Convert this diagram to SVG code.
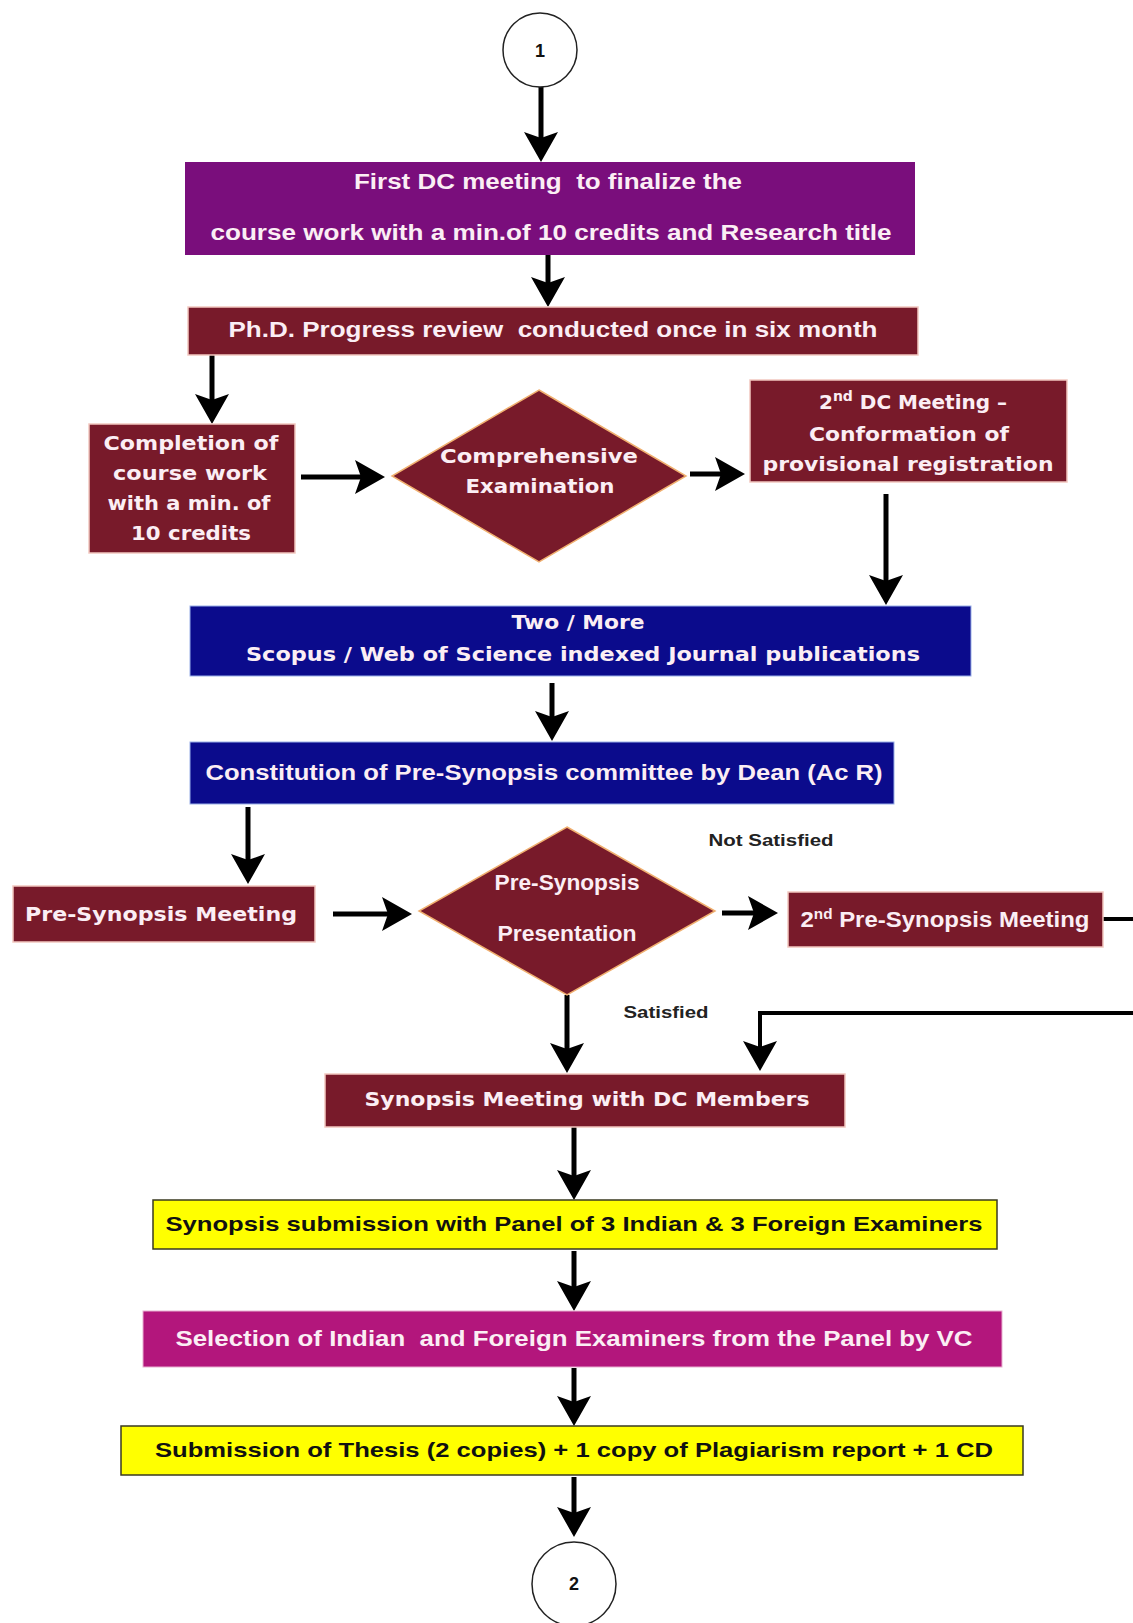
<svg xmlns="http://www.w3.org/2000/svg" width="1133" height="1623" viewBox="0 0 1133 1623">
<style>
.bg{fill:#ffffff}
.purple{fill:#7a0e7c}
.maroon{fill:#781a2a;stroke:#f2c8c0;stroke-width:1.5}
.dia{fill:#781a2a;stroke:#f0b070;stroke-width:1.5}
.blue{fill:#0b0b8c;stroke:#9ab0e8;stroke-width:1}
.magenta{fill:#b3167c;stroke:#e8b0d0;stroke-width:1}
.yellow{fill:#ffff00;stroke:#3a3a20;stroke-width:1.5}
.circ{fill:#ffffff;stroke:#222;stroke-width:1.5}
.t{font-family:"Liberation Sans",Arial,sans-serif;font-weight:bold;font-size:22px;fill:#fbeef4;text-anchor:middle;white-space:pre}
.v{font-family:"DejaVu Sans",Verdana,sans-serif;font-weight:bold;font-size:20px;fill:#fbeef4;text-anchor:middle}
.k{font-family:"Liberation Sans",Arial,sans-serif;font-weight:bold;font-size:21px;fill:#111;text-anchor:middle}
.lbl{font-family:"Liberation Sans",Arial,sans-serif;font-weight:bold;font-size:17px;fill:#222;text-anchor:middle}
.n{font-family:"Liberation Sans",Arial,sans-serif;font-weight:bold;font-size:18px;fill:#111;text-anchor:middle}
.c{fill:none;stroke:#000;stroke-width:5}
.c2{fill:none;stroke:#000;stroke-width:4}
</style>
<defs>
<marker id="ah" viewBox="0 0 30 34" refX="20" refY="17" markerWidth="30" markerHeight="34" markerUnits="userSpaceOnUse" orient="auto">
<path d="M0,0 L30,17 L0,34 L6,17 Z" fill="#000"/>
</marker>
</defs>
<rect class="bg" x="0" y="0" width="1133" height="1623"/>

<g id="connectors">
<line class="c" x1="541" y1="87" x2="541" y2="152" marker-end="url(#ah)"/>
<line class="c" x1="548" y1="255" x2="548" y2="297" marker-end="url(#ah)"/>
<line class="c" x1="212" y1="355" x2="212" y2="414" marker-end="url(#ah)"/>
<line class="c" x1="301" y1="477" x2="375" y2="477" marker-end="url(#ah)"/>
<line class="c" x1="690" y1="474" x2="735" y2="474" marker-end="url(#ah)"/>
<line class="c" x1="886" y1="494" x2="886" y2="595" marker-end="url(#ah)"/>
<line class="c" x1="552" y1="683" x2="552" y2="731" marker-end="url(#ah)"/>
<line class="c" x1="248" y1="807" x2="248" y2="874" marker-end="url(#ah)"/>
<line class="c" x1="333" y1="914" x2="402" y2="914" marker-end="url(#ah)"/>
<line class="c" x1="722" y1="913" x2="768" y2="913" marker-end="url(#ah)"/>
<line class="c2" x1="1103" y1="919" x2="1133" y2="919"/>
<path class="c2" d="M1133,1013 L760,1013 L760,1061" marker-end="url(#ah)"/>
<line class="c" x1="567" y1="995" x2="567" y2="1063" marker-end="url(#ah)"/>
<line class="c" x1="574" y1="1127" x2="574" y2="1190" marker-end="url(#ah)"/>
<line class="c" x1="574" y1="1251" x2="574" y2="1301" marker-end="url(#ah)"/>
<line class="c" x1="574" y1="1368" x2="574" y2="1416" marker-end="url(#ah)"/>
<line class="c" x1="574" y1="1477" x2="574" y2="1527" marker-end="url(#ah)"/>
</g>

<g id="start">
<circle class="circ" cx="540" cy="50" r="37"/>
<text class="n" x="540" y="57">1</text>
</g>

<g id="first-dc">
<rect class="purple" x="185" y="162" width="730" height="93"/>
<text class="t" x="548" y="189" textLength="388" lengthAdjust="spacingAndGlyphs">First DC meeting  to finalize the</text>
<text class="t" x="551" y="240" textLength="681" lengthAdjust="spacingAndGlyphs">course work with a min.of 10 credits and Research title</text>
</g>

<g id="progress">
<rect class="maroon" x="188" y="307" width="730" height="48"/>
<text class="t" x="553" y="337" textLength="649" lengthAdjust="spacingAndGlyphs">Ph.D. Progress review  conducted once in six month</text>
</g>

<g id="completion">
<rect class="maroon" x="89" y="424" width="206" height="129"/>
<text class="v" x="191" y="450" textLength="175" lengthAdjust="spacingAndGlyphs">Completion of</text>
<text class="v" x="190" y="480" textLength="154" lengthAdjust="spacingAndGlyphs">course work</text>
<text class="v" x="189" y="510" textLength="163" lengthAdjust="spacingAndGlyphs">with a min. of</text>
<text class="v" x="191" y="540" textLength="120" lengthAdjust="spacingAndGlyphs">10 credits</text>
</g>

<g id="comprehensive">
<polygon class="dia" points="539,390 686,476 539,562 392,476"/>
<text class="v" x="539" y="463" textLength="198" lengthAdjust="spacingAndGlyphs">Comprehensive</text>
<text class="v" x="540" y="493" textLength="149" lengthAdjust="spacingAndGlyphs">Examination</text>
</g>

<g id="second-dc">
<rect class="maroon" x="750" y="380" width="317" height="102"/>
<text class="v" x="913" y="409" font-size="21">2<tspan font-size="14" dy="-8">nd</tspan><tspan dy="8"> DC Meeting –</tspan></text>
<text class="v" x="909" y="441" textLength="200" lengthAdjust="spacingAndGlyphs">Conformation of</text>
<text class="v" x="908" y="471" textLength="291" lengthAdjust="spacingAndGlyphs">provisional registration</text>
</g>

<g id="publications">
<rect class="blue" x="190" y="606" width="781" height="70"/>
<text class="v" x="578" y="629" textLength="133" lengthAdjust="spacingAndGlyphs">Two / More</text>
<text class="v" x="583" y="661" textLength="674" lengthAdjust="spacingAndGlyphs">Scopus / Web of Science indexed Journal publications</text>
</g>

<g id="constitution">
<rect class="blue" x="190" y="742" width="704" height="62"/>
<text class="t" x="544" y="780" textLength="677" lengthAdjust="spacingAndGlyphs">Constitution of Pre-Synopsis committee by Dean (Ac R)</text>
</g>

<g id="pre-synopsis-meeting">
<rect class="maroon" x="13" y="886" width="302" height="56"/>
<text class="v" x="161" y="921" textLength="272" lengthAdjust="spacingAndGlyphs">Pre-Synopsis Meeting</text>
</g>

<g id="pre-synopsis-presentation">
<polygon class="dia" points="567,827 715,911 567,995 419,911"/>
<text class="t" x="567" y="890" font-size="20" textLength="145" lengthAdjust="spacingAndGlyphs">Pre-Synopsis</text>
<text class="t" x="567" y="941" font-size="20" textLength="139" lengthAdjust="spacingAndGlyphs">Presentation</text>
</g>

<g id="second-pre-synopsis">
<rect class="maroon" x="788" y="892" width="315" height="55"/>
<text class="t" x="945" y="927" font-size="22" textLength="289" lengthAdjust="spacingAndGlyphs">2<tspan font-size="14" dy="-8">nd</tspan><tspan dy="8"> Pre-Synopsis Meeting</tspan></text>
</g>

<g id="labels">
<text class="lbl" x="771" y="846" textLength="125" lengthAdjust="spacingAndGlyphs">Not Satisfied</text>
<text class="lbl" x="666" y="1018" textLength="85" lengthAdjust="spacingAndGlyphs">Satisfied</text>
</g>

<g id="synopsis-meeting">
<rect class="maroon" x="325" y="1074" width="520" height="53"/>
<text class="v" x="587" y="1106" textLength="445" lengthAdjust="spacingAndGlyphs">Synopsis Meeting with DC Members</text>
</g>

<g id="synopsis-submission">
<rect class="yellow" x="153" y="1200" width="844" height="49"/>
<text class="k" x="574" y="1231" textLength="817" lengthAdjust="spacingAndGlyphs">Synopsis submission with Panel of 3 Indian &amp; 3 Foreign Examiners</text>
</g>

<g id="selection">
<rect class="magenta" x="143" y="1311" width="859" height="56"/>
<text class="t" x="574" y="1346" textLength="797" lengthAdjust="spacingAndGlyphs">Selection of Indian  and Foreign Examiners from the Panel by VC</text>
</g>

<g id="thesis-submission">
<rect class="yellow" x="121" y="1426" width="902" height="49"/>
<text class="k" x="574" y="1457" textLength="838" lengthAdjust="spacingAndGlyphs">Submission of Thesis (2 copies) + 1 copy of Plagiarism report + 1 CD</text>
</g>

<g id="end">
<circle class="circ" cx="574" cy="1584" r="42"/>
<text class="n" x="574" y="1590">2</text>
</g>
</svg>
